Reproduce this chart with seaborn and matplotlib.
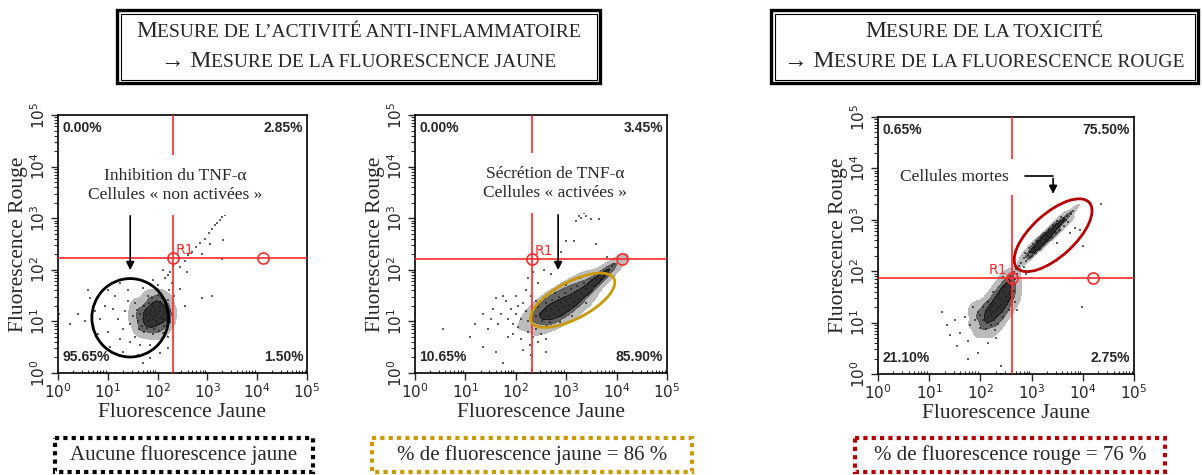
import numpy as np
import pandas as pd
import matplotlib
matplotlib.use("Agg")
import matplotlib.pyplot as plt
import seaborn as sns
from matplotlib.colors import ListedColormap
from matplotlib.patches import Ellipse, Rectangle
from matplotlib.offsetbox import TextArea, HPacker, VPacker, AnnotationBbox

sns.set_style("white")
plt.rcParams['font.family'] = ['DejaVu Sans']

SERIF = ['Liberation Serif', 'DejaVu Serif']
RED = '#FF2A2A'
GOLD = '#C99A06'
DARKRED = '#B40000'

# ---- data (decades : log10 of fluorescence) ----
# panel 1 : cellules non activees -- dense core, then sparse events
p1_core_x = [1.95, 2.00, 1.90, 2.05, 1.85, 1.95, 2.10, 1.80, 2.00, 1.90, 2.15, 1.75, 2.05, 1.85, 1.98, 2.12, 1.70, 2.20, 1.82, 1.92,
             2.08, 1.65, 2.18, 1.78, 1.88, 2.02, 1.72, 2.22, 1.60, 1.96, 2.06, 1.86, 1.76, 2.14, 1.94, 1.84, 2.04, 1.68, 2.24, 1.58,
             1.90, 2.10, 1.72, 2.00, 1.80, 2.20, 1.55, 1.62, 2.25, 1.50]
p1_core_y = [1.10, 1.15, 1.05, 1.20, 1.15, 1.25, 1.05, 1.00, 0.95, 1.30, 1.15, 1.20, 1.35, 0.90, 1.40, 0.92, 1.05, 1.25, 1.35, 0.85,
             1.45, 1.15, 1.00, 0.88, 1.45, 0.82, 1.30, 1.10, 1.00, 1.00, 1.08, 1.22, 1.12, 1.30, 1.18, 1.02, 1.28, 0.92, 0.98, 1.22,
             0.75, 0.78, 0.80, 1.52, 1.50, 1.42, 1.35, 0.85, 1.20, 1.10]
p1_x = [1.45, 1.35, 1.30, 1.40, 1.20, 1.10, 1.25, 1.45, 1.65, 1.85, 2.05, 2.20, 1.55, 1.15, 1.40, 1.70, 2.00, 2.22, 2.15, 1.90,
        0.95, 0.85, 1.00, 0.75, 0.65, 0.55, 0.80, 1.05, 1.30, 1.60, 1.85, 2.05, 2.20, 0.60, 0.40, 0.25, 1.00, 1.25, 0.90, 1.70,
        0.00, 0.00, 0.00, 0.00, 0.00, 0.00, 0.02, 0.85, 1.15, 1.40, 1.60, 1.80, 2.00, 2.45,
        2.25, 2.30, 2.20, 2.28, 2.10, 2.32,
        2.45, 2.55, 2.62, 2.70, 2.78, 2.86, 2.95, 3.04, 3.10, 3.15, 3.20, 3.25, 3.30, 3.35, 3.40, 3.05, 2.90, 3.32,
        2.90, 3.10, 3.30, 2.55, 2.45, 2.60]
p1_y = [0.95, 1.20, 0.85, 1.40, 1.05, 1.25, 0.65, 0.60, 0.55, 0.55, 0.60, 0.70, 0.70, 1.50, 1.60, 1.65, 1.70, 1.60, 1.85, 1.80,
        1.30, 1.05, 0.80, 1.20, 1.45, 1.00, 0.75, 0.50, 0.40, 0.35, 0.30, 0.38, 0.48, 1.60, 1.15, 0.95, 1.60, 1.75, 0.55, 0.20,
        0.60, 0.85, 1.05, 1.25, 1.45, 0.72, 1.15, 0.00, 0.00, 0.00, 0.00, 0.00, 0.00, 0.00,
        1.95, 2.08, 1.90, 1.75, 2.00, 1.50,
        2.05, 2.18, 2.28, 2.35, 2.45, 2.52, 2.60, 2.72, 2.80, 2.86, 2.90, 2.96, 3.02, 3.06, 3.12, 2.50, 2.30, 2.58,
        1.45, 1.50, 2.20, 1.30, 1.62, 1.95]

# panel 2 : cellules activees
p2_core_x = [2.50, 2.60, 2.70, 2.80, 2.90, 3.00, 3.10, 3.20, 3.30, 3.40, 2.55, 2.65, 2.75, 2.85, 2.95, 3.05, 3.15, 3.25, 3.35, 3.45,
             2.45, 2.60, 2.72, 2.85, 2.98, 3.10, 3.22, 3.35, 3.50, 3.60, 2.40, 2.52, 2.68, 2.82, 2.95, 3.08, 3.20, 3.55, 3.65, 3.75,
             3.80, 3.70, 3.85, 3.90, 3.95, 2.35, 2.58, 2.78, 3.00, 3.28, 2.62, 2.88, 3.12, 3.40, 2.30]
p2_core_y = [1.15, 1.20, 1.25, 1.30, 1.35, 1.40, 1.45, 1.50, 1.55, 1.62, 1.05, 1.10, 1.15, 1.22, 1.28, 1.32, 1.38, 1.44, 1.50, 1.55,
             1.28, 1.35, 1.42, 1.48, 1.55, 1.62, 1.68, 1.75, 1.80, 1.85, 1.10, 1.00, 0.98, 1.08, 1.15, 1.22, 1.30, 1.68, 1.75, 1.90,
             1.95, 1.82, 2.02, 2.08, 2.12, 1.20, 1.45, 1.55, 1.70, 1.85, 0.90, 0.98, 1.10, 1.35, 1.02]
p2_x = [2.20, 2.10, 2.00, 1.90, 2.15, 2.05, 1.95, 1.85, 2.25, 2.35, 2.10, 1.80, 1.70, 1.65, 1.55, 2.30, 2.20, 2.00, 1.75, 2.40,
        2.50, 2.28, 2.15, 1.60, 1.50, 1.45, 2.40, 2.25, 2.05, 1.95, 2.45, 2.60, 1.35, 1.20, 1.85,
        1.10, 0.55, 1.60, 1.75, 2.30, 2.60, 1.35,
        2.25, 2.35, 2.55, 2.70, 2.45, 2.90, 3.00, 3.15, 3.60, 3.80, 3.95,
        3.20, 3.25, 3.30, 3.35, 3.40, 3.45, 3.55, 3.50, 3.65,
        0.00, 0.00, 0.00, 1.50, 2.20, 2.50, 2.90, 3.30, 1.90, 2.32]
p2_y = [1.20, 1.05, 1.15, 1.25, 1.35, 0.90, 0.95, 1.05, 0.80, 0.70, 0.65, 1.40, 1.15, 0.95, 1.25, 1.50, 1.60, 1.50, 1.50, 0.85,
        0.75, 0.55, 0.45, 1.45, 1.05, 0.85, 1.40, 1.00, 1.30, 0.75, 0.60, 0.65, 1.15, 0.95, 0.70,
        0.70, 0.85, 0.40, 0.20, 0.35, 0.40, 0.50,
        1.85, 1.95, 2.00, 1.92, 1.75, 2.35, 2.55, 2.55, 2.50, 2.25, 2.20,
        2.95, 3.05, 3.00, 3.10, 3.05, 3.15, 3.20, 2.98, 2.98,
        0.80, 1.00, 1.15, 0.00, 0.00, 0.00, 0.00, 0.00, 0.00, 0.05]

# panel 3 : toxicite -- dead cells band, living cells cluster, sparse events
p3_core_x = [2.85, 2.92, 2.98, 3.04, 3.10, 3.16, 3.22, 3.28, 3.34, 3.40, 3.46, 3.52, 3.58, 3.64, 3.70, 3.76, 2.90, 2.96, 3.02, 3.08,
             3.14, 3.20, 3.26, 3.32, 3.38, 3.44, 3.50, 3.56, 3.62, 3.68, 2.88, 2.95, 3.02, 3.10, 3.18, 3.26, 3.34, 3.42, 3.50, 3.58,
             3.00, 3.08, 3.16, 3.24, 3.32, 3.40, 3.48, 3.56, 3.64, 3.72, 3.30, 3.22, 3.36, 3.28, 3.18, 3.44, 3.12, 3.38, 3.06, 3.80]
p3_core_y = [2.25, 2.32, 2.38, 2.44, 2.50, 2.56, 2.62, 2.68, 2.74, 2.80, 2.86, 2.92, 2.98, 3.04, 3.08, 3.12, 2.20, 2.28, 2.35, 2.42,
             2.48, 2.55, 2.60, 2.66, 2.72, 2.78, 2.84, 2.90, 2.96, 3.00, 2.35, 2.45, 2.52, 2.58, 2.66, 2.74, 2.82, 2.90, 2.98, 3.06,
             2.30, 2.36, 2.44, 2.52, 2.58, 2.66, 2.74, 2.80, 2.88, 2.96, 2.70, 2.70, 2.64, 2.62, 2.60, 2.86, 2.52, 2.76, 2.48, 3.18]
p3_live_x = [2.35, 2.40, 2.30, 2.45, 2.25, 2.50, 2.20, 2.55, 2.15, 2.38, 2.28, 2.42, 2.32, 2.48, 2.22, 2.18, 2.52, 2.12, 2.58, 2.36,
             2.26, 2.46, 2.10, 2.05, 2.60, 2.40, 2.30, 2.00, 2.15, 2.55, 2.62, 2.45, 2.20, 2.35, 2.05, 1.95, 2.50, 2.62, 2.10, 1.90,
             2.56, 2.48, 2.66, 2.64, 2.44, 2.00, 2.28, 1.85, 2.25, 2.68]
p3_live_y = [1.30, 1.35, 1.25, 1.40, 1.20, 1.50, 1.15, 1.55, 1.10, 1.45, 1.38, 1.20, 1.12, 1.30, 1.32, 1.25, 1.42, 1.00, 1.62, 1.55,
             1.05, 1.60, 1.20, 1.05, 1.70, 1.65, 1.50, 1.15, 1.40, 1.25, 1.50, 1.10, 0.95, 0.98, 1.30, 1.20, 1.75, 1.80, 0.88, 1.05,
             1.85, 1.70, 1.62, 1.95, 1.88, 0.90, 0.85, 1.30, 1.60, 1.40]
p3_x = [2.60, 2.65, 2.70, 2.75, 2.80, 2.72, 2.68, 2.78, 2.85, 2.58, 2.66, 2.90,
        3.75, 3.85, 3.95, 3.90, 4.00, 3.98, 4.35, 3.50,
        1.80, 1.70, 1.60, 1.50, 1.40, 1.25, 1.35, 1.55, 1.75, 1.95, 2.15, 2.30, 2.40, 1.75, 2.72,
        2.00, 2.40, 2.60, 2.90, 1.60]
p3_y = [1.90, 1.98, 2.05, 2.10, 2.15, 1.95, 1.85, 2.02, 2.08, 1.80, 1.75, 1.95,
        2.75, 2.85, 2.80, 2.60, 2.50, 1.30, 3.30, 2.55,
        0.95, 1.10, 0.80, 1.05, 0.75, 1.20, 0.95, 0.55, 0.65, 0.40, 0.60, 0.70, 0.15, 0.30, 1.25,
        0.00, 0.00, 0.00, 0.00, 0.00]

# quadrant percentages (UL, UR, LL, LR)
quad1 = ['0.00%', '2.85%', '95.65%', '1.50%']
quad2 = ['0.00%', '3.45%', '10.65%', '85.90%']
quad3 = ['0.65%', '75.50%', '21.10%', '2.75%']

# gate R1 (x, y) and second marker x
gate1 = (2.31, 2.23, 4.12)
gate2 = (2.32, 2.21, 4.11)
gate3 = (2.62, 1.87, 4.20)

decades = [0, 1, 2, 3, 4, 5]

fig = plt.figure(figsize=(12.02, 4.75), dpi=100)
W, H = 1202, 475
core_cmap = ListedColormap(['#b0b0b0', '#4a4a4a', '#0e0e0e'])


def panel_axes(left, right, top, bottom):
    return fig.add_axes([left / W, (H - bottom) / H, (right - left) / W, (bottom - top) / H])


def draw_panel(ax, cores, xs, ys, gate, quad):
    # dense cores of the cytometry clouds
    for cx, cy in cores:
        core = pd.DataFrame({'fl_jaune': cx, 'fl_rouge': cy})
        sns.kdeplot(data=core, x='fl_jaune', y='fl_rouge', ax=ax, fill=True, levels=[0.05, 0.3, 0.6, 1.0],
                    bw_adjust=0.9, cmap=core_cmap, alpha=0.85)
    # every event as a dot
    all_x = list(xs) + [v for cx, _ in cores for v in cx]
    all_y = list(ys) + [v for _, cy in cores for v in cy]
    ev = pd.DataFrame({'fl_jaune': all_x, 'fl_rouge': all_y})
    sns.scatterplot(data=ev, x='fl_jaune', y='fl_rouge', ax=ax, s=3.5, color='#1e1e1e', alpha=0.7,
                    marker='s', linewidth=0, legend=False, zorder=2)
    ax.set_xlim(0, 5)
    ax.set_ylim(0, 5)
    ax.set_xticks(decades)
    ax.set_yticks(decades)
    ax.set_xticklabels([f'$10^{{{d}}}$' for d in decades], fontsize=11)
    ax.set_yticklabels([f'$10^{{{d}}}$' for d in decades], fontsize=11, rotation=90, va='center')
    minor = [d + np.log10(m) for d in range(5) for m in range(2, 10)]
    ax.set_xticks(minor, minor=True)
    ax.set_yticks(minor, minor=True)
    ax.tick_params(axis='both', which='major', direction='out', length=5, width=1, pad=2,
                   bottom=True, left=True)
    ax.tick_params(axis='y', which='minor', direction='out', length=3, width=0.8, left=True)
    ax.tick_params(axis='x', which='minor', direction='in', length=2.5, width=0.8, bottom=True)
    for sp in ax.spines.values():
        sp.set_color('black')
        sp.set_linewidth(1.2)

    gx, gy, gx2 = gate
    ax.axvline(gx, color=RED, lw=1.2, zorder=3)
    ax.axhline(gy, color=RED, lw=1.2, zorder=3)
    ax.plot([gx, gx2], [gy, gy], 'o', mfc='none', mec=RED, ms=8, mew=1.2, zorder=4)

    kw = dict(transform=ax.transAxes, fontsize=10, fontweight='bold', family='Liberation Sans', zorder=5)
    ax.text(0.018, 0.975, quad[0], ha='left', va='top', **kw)
    ax.text(0.985, 0.975, quad[1], ha='right', va='top', **kw)
    ax.text(0.018, 0.035, quad[2], ha='left', va='bottom', **kw)
    ax.text(0.985, 0.035, quad[3], ha='right', va='bottom', **kw)

    ax.set_xlabel('Fluorescence Jaune', fontsize=15.5, family=SERIF, labelpad=1)
    ax.set_ylabel('Fluorescence Rouge', fontsize=15.5, family=SERIF, labelpad=1)


note_kw = dict(ha='center', va='center', fontsize=12.5, family=SERIF, zorder=6, linespacing=1.25)
arrow_kw = dict(arrowstyle='-|>', color='black', lw=1.2, mutation_scale=12)

# panel 1
ax1 = panel_axes(58, 307, 115, 373)
draw_panel(ax1, [(p1_core_x, p1_core_y)], p1_x, p1_y, gate1, quad1)
ax1.text(gate1[0] + 0.06, gate1[1] + 0.07, 'R1', color=RED, fontsize=10, zorder=5)
ax1.add_patch(Ellipse((1.45, 1.07), 1.54, 1.52, fill=False, ec='black', lw=2, zorder=5))
ax1.text(2.35, 3.64, 'Inhibition du TNF-\u03b1\nCellules \u00ab non activ\u00e9es \u00bb',
         bbox=dict(fc='white', ec='none', pad=9), **note_kw)
ax1.annotate('', xy=(1.45, 1.94), xytext=(1.45, 3.1), arrowprops=arrow_kw, zorder=6)

# panel 2
ax2 = panel_axes(415, 667, 115, 373)
draw_panel(ax2, [(p2_core_x, p2_core_y)], p2_x, p2_y, gate2, quad2)
ax2.text(gate2[0] + 0.06, gate2[1] + 0.07, 'R1', color=RED, fontsize=10, zorder=5)
ax2.add_patch(Ellipse((3.13, 1.41), 1.84, 0.72, angle=27, fill=False, ec=GOLD, lw=2, zorder=5))
ax2.text(2.78, 3.68, 'S\u00e9cr\u00e9tion de TNF-\u03b1\nCellules \u00ab activ\u00e9es \u00bb',
         bbox=dict(fc='white', ec='none', pad=9), **note_kw)
ax2.annotate('', xy=(2.84, 1.94), xytext=(2.84, 3.12), arrowprops=arrow_kw, zorder=6)

# panel 3
ax3 = panel_axes(878, 1134, 117, 374)
draw_panel(ax3, [(p3_core_x, p3_core_y), (p3_live_x, p3_live_y)], p3_x, p3_y, gate3, quad3)
ax3.text(gate3[0] - 0.1, gate3[1] + 0.07, 'R1', color=RED, fontsize=10, ha='right', zorder=5)
ax3.add_patch(Ellipse((3.42, 2.70), 1.9, 0.84, angle=42, fill=False, ec=DARKRED, lw=2, zorder=5))
ax3.text(1.50, 3.83, 'Cellules mortes', bbox=dict(fc='white', ec='none', pad=7), **note_kw)
ax3.plot([2.87, 3.42], [3.85, 3.85], color='black', lw=1.2, zorder=6)
ax3.annotate('', xy=(3.42, 3.45), xytext=(3.42, 3.86), arrowprops=arrow_kw, zorder=6)

# overlay for the framed titles and the bottom captions
ov = fig.add_axes([0, 0, 1, 1], zorder=10)
ov.set_xlim(0, W)
ov.set_ylim(H, 0)
ov.axis('off')


def title_box(x0, x1, y0, y1, lines):
    ov.add_patch(Rectangle((x0, y0), x1 - x0, y1 - y0, fill=False, ec='black', lw=2.4))
    ov.add_patch(Rectangle((x0 + 3.5, y0 + 3.5), x1 - x0 - 7, y1 - y0 - 7, fill=False, ec='black', lw=0.8))
    rows = []
    for parts in lines:
        kids = [TextArea(t, textprops=dict(fontsize=s, family=SERIF)) for t, s in parts]
        rows.append(HPacker(children=kids, align='baseline', pad=0, sep=0))
    box = VPacker(children=rows, align='center', pad=0, sep=6)
    ov.add_artist(AnnotationBbox(box, ((x0 + x1) / 2, (y0 + y1) / 2), frameon=False,
                                 box_alignment=(0.5, 0.5)))


BIG, SMALL = 17, 14
title_box(117, 600, 10, 83, [
    [('M', BIG), ('ESURE DE L\u2019ACTIVIT\u00c9 ANTI-INFLAMMATOIRE', SMALL)],
    [('\u2192 M', BIG), ('ESURE DE LA FLUORESCENCE JAUNE', SMALL)],
])
title_box(771, 1198, 10, 83, [
    [('M', BIG), ('ESURE DE LA TOXICIT\u00c9', SMALL)],
    [('\u2192 M', BIG), ('ESURE DE LA FLUORESCENCE ROUGE', SMALL)],
])

captions = ['Aucune fluorescence jaune', '% de fluorescence jaune = 86 %', '% de fluorescence rouge = 76 %']
cap_boxes = [(55, 313, 'black'), (372, 692, GOLD), (855, 1165, DARKRED)]
for text, (x0, x1, col) in zip(captions, cap_boxes):
    ov.add_patch(Rectangle((x0, 438), x1 - x0, 34, fill=False, ec=col, lw=3, ls=(0, (1, 1))))
    ov.text((x0 + x1) / 2, 455, text, ha='center', va='center', fontsize=15, family=SERIF)

fig.savefig('out.png', dpi=100)
